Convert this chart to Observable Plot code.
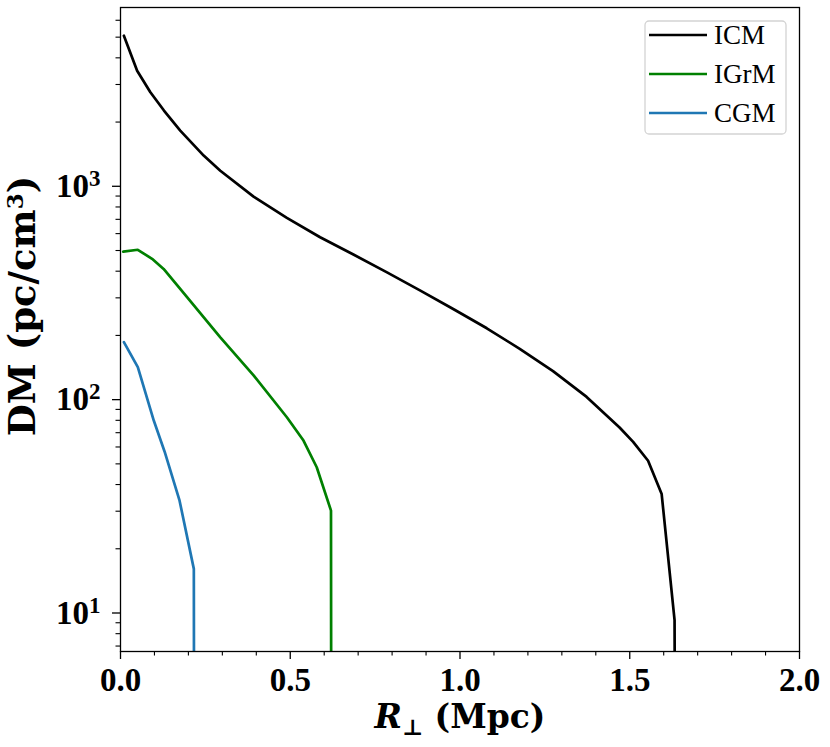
<!DOCTYPE html>
<html>
<head>
<meta charset="utf-8">
<script src="https://cdn.jsdelivr.net/npm/d3@7"></script>
<script src="https://cdn.jsdelivr.net/npm/@observablehq/plot@0.6"></script>
<style>
  html, body { margin: 0; padding: 0; background: white; }
  #chart { position: relative; width: 830px; height: 747px; }
</style>
</head>
<body>
<div id="chart"></div>
<script>
// ---- data ----
const seriesNames = ["ICM", "IGrM", "CGM"];
const seriesColors = ["#000000", "#008000", "#1f77b4"];

const icmR  = [0.01, 0.049, 0.088, 0.128, 0.176, 0.245, 0.294, 0.392, 0.49, 0.588, 0.686, 0.785, 0.882, 0.98, 1.079, 1.176, 1.274, 1.373, 1.47, 1.51, 1.554, 1.594, 1.632, 1.634];
const icmDM = [5080, 3480, 2760, 2264, 1824, 1393, 1183, 895, 711, 577, 479, 395, 325, 266, 216, 173, 136, 103, 74, 63.4, 51.7, 36.1, 9.25, 1];

const igrmR  = [0.008, 0.051, 0.093, 0.127, 0.196, 0.294, 0.392, 0.49, 0.539, 0.578, 0.62, 0.621];
const igrmDM = [494, 504, 457, 410, 302, 196, 130, 82.7, 64.3, 48.2, 30.2, 1];

const cgmR  = [0.01, 0.051, 0.098, 0.13, 0.174, 0.216, 0.217];
const cgmDM = [186, 142, 79.8, 57, 33.6, 16.1, 1];

const xMajorTicks = [0, 0.5, 1.0, 1.5, 2.0];
const xMinorTicks = [0.1, 0.2, 0.3, 0.4, 0.6, 0.7, 0.8, 0.9, 1.1, 1.2, 1.3, 1.4, 1.6, 1.7, 1.8, 1.9];
const yMajorTicks = [10, 100, 1000];
const yMinorTicks = [7, 8, 9, 20, 30, 40, 50, 60, 70, 80, 90, 200, 300, 400, 500, 600, 700, 800, 900, 2000, 3000, 4000, 5000, 6000];

const xLabel = ["R", "⊥", " (Mpc)"];
const yLabel = ["DM (pc/cm", "3", ")"];

// ---- build table ----
const rows = [];
[[icmR, icmDM], [igrmR, igrmDM], [cgmR, cgmDM]].forEach(([rs, ds], i) => {
  rs.forEach((r, j) => rows.push({series: seriesNames[i], r, dm: ds[j]}));
});

const chart = Plot.plot({
  width: 830,
  height: 747,
  marginLeft: 120,
  marginRight: 31,
  marginTop: 7,
  marginBottom: 96,
  style: {fontFamily: "'Liberation Serif', serif", fontWeight: "bold", fontSize: "33px", background: "white", color: "black"},
  x: {domain: [0, 2]},
  y: {type: "log", domain: [6.6, 6886]},
  color: {domain: seriesNames, range: seriesColors},
  marks: [
    Plot.line(rows, {x: "r", y: "dm", z: "series", stroke: "series", strokeWidth: 2.7, clip: true}),
    Plot.frame({stroke: "black", strokeWidth: 1.3}),
    Plot.axisX(xMajorTicks, {tickSize: 8, tickPadding: 8, strokeWidth: 1.3, label: null, tickFormat: d3.format(".1f")}),
    Plot.axisX(xMinorTicks, {tickSize: 4.5, strokeWidth: 1.1, label: null, tickFormat: () => ""}),
    Plot.axisY(yMajorTicks, {tickSize: 8, tickPadding: 12, strokeWidth: 1.3, label: null, tickFormat: d => String(Math.round(Math.log10(d)))}),
    Plot.axisY(yMinorTicks, {tickSize: 4.5, strokeWidth: 1.1, label: null, tickFormat: () => ""})
  ]
});

document.getElementById("chart").appendChild(chart);
const svg = d3.select(chart.tagName.toLowerCase() === "svg" ? chart : chart.querySelector("svg"));

// y tick labels as 10^n with superscripts (major ticks only)
svg.selectAll('g[aria-label="y-axis tick label"] text').each(function() {
  const t = d3.select(this);
  const exp = t.text();
  if (!exp) return;
  t.text(null);
  t.append("tspan").text("10");
  t.append("tspan").attr("dy", "-11").attr("font-size", 23).text(exp);
});

// x axis label
const xl = svg.append("text")
  .attr("x", 460).attr("y", 728)
  .attr("text-anchor", "middle")
  .attr("font-family", "'DejaVu Serif', serif")
  .attr("font-weight", "bold")
  .attr("font-size", 33)
  .attr("fill", "black");
xl.append("tspan").attr("font-style", "italic").text(xLabel[0]);
xl.append("tspan").attr("font-size", 22).attr("dy", 7).text(xLabel[1]);
xl.append("tspan").attr("dy", -7).text(xLabel[2]);

// y axis label
const yl = svg.append("text")
  .attr("transform", "translate(35,306) rotate(-90)")
  .attr("text-anchor", "middle")
  .attr("font-family", "'DejaVu Serif', serif")
  .attr("font-weight", "bold")
  .attr("font-size", 37)
  .attr("fill", "black");
yl.append("tspan").text(yLabel[0]);
yl.append("tspan").attr("font-size", 23).attr("dy", -12).text(yLabel[1]);
yl.append("tspan").attr("dy", 12).text(yLabel[2]);

// legend (upper right, inside the frame)
const lg = svg.append("g");
lg.append("rect")
  .attr("x", 645).attr("y", 21).attr("width", 141).attr("height", 113)
  .attr("rx", 4).attr("fill", "white").attr("fill-opacity", 0.8)
  .attr("stroke", "#d3d3d3").attr("stroke-width", 1.3);
seriesNames.forEach((name, i) => {
  const yy = 35 + i * 39;
  lg.append("line").attr("x1", 649).attr("x2", 707).attr("y1", yy).attr("y2", yy)
    .attr("stroke", seriesColors[i]).attr("stroke-width", 2.7);
  lg.append("text").attr("x", 714).attr("y", yy + 9)
    .attr("text-anchor", "start")
    .attr("font-family", "'Liberation Serif', serif").attr("font-size", 27)
    .attr("font-weight", "normal").attr("fill", "black").text(name);
});
</script>
</body>
</html>
